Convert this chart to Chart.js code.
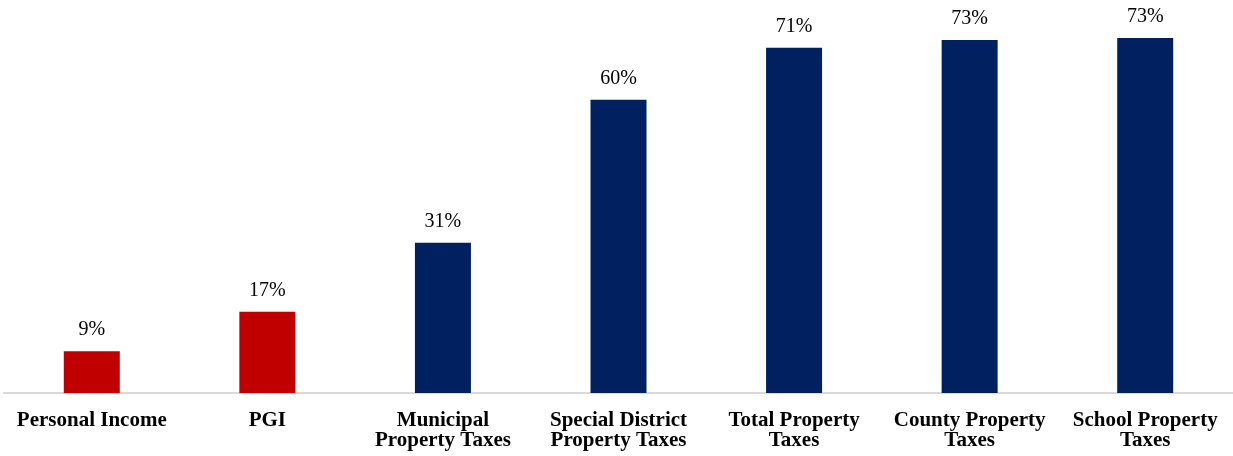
<!DOCTYPE html>
<html>
<head>
<meta charset="utf-8">
<title>Growth by revenue source</title>
<script src="https://cdn.jsdelivr.net/npm/chart.js@4.4.1/dist/chart.umd.min.js"></script>
<style>
  html, body { margin: 0; padding: 0; background: #ffffff; }
  #wrap { width: 1233px; height: 456px; }
</style>
</head>
<body>
<div id="wrap"><canvas id="chart" width="1233" height="456"></canvas></div>
<script>
// Categories shown along the bottom axis (multi-line where wrapped)
const categories = [
  ['Personal Income'],
  ['PGI'],
  ['Municipal', 'Property Taxes'],
  ['Special District', 'Property Taxes'],
  ['Total Property', 'Taxes'],
  ['County Property', 'Taxes'],
  ['School Property', 'Taxes']
];

// Percentage change for each category
const growthPct = [8.6, 16.7, 30.9, 60.3, 71.0, 72.6, 73.0];

// Income measures in red, property tax measures in navy
const barColors = ['#C00000', '#C00000', '#002060', '#002060', '#002060', '#002060', '#002060'];

const SERIF = "'Liberation Serif', 'Times New Roman', Times, serif";

// Value labels above each bar, placed from the bar element itself
const valueLabels = {
  id: 'valueLabels',
  afterDatasetsDraw(chart) {
    const ctx = chart.ctx;
    const meta = chart.getDatasetMeta(0);
    const values = chart.data.datasets[0].data;
    ctx.save();
    ctx.font = '20px ' + SERIF;
    ctx.fillStyle = '#000000';
    ctx.textAlign = 'center';
    ctx.textBaseline = 'alphabetic';
    meta.data.forEach((bar, i) => {
      ctx.fillText(Math.round(values[i]) + '%', bar.x, bar.y - 16);
    });
    ctx.restore();
  }
};

new Chart(document.getElementById('chart'), {
  type: 'bar',
  data: {
    labels: categories,
    datasets: [{
      data: growthPct,
      backgroundColor: barColors,
      borderWidth: 0,
      categoryPercentage: 1.0,
      barPercentage: 0.319
    }]
  },
  options: {
    responsive: false,
    animation: false,
    devicePixelRatio: 1,
    layout: { padding: { top: 4, left: 4, right: 0, bottom: 0 } },
    plugins: {
      legend: { display: false },
      tooltip: { enabled: false },
      title: { display: false }
    },
    scales: {
      x: {
        grid: { display: false, drawTicks: false },
        border: { display: true, color: '#d9d9d9', width: 2 },
        ticks: {
          color: '#000000',
          padding: 18,
          maxRotation: 0,
          autoSkip: false,
          font: { family: SERIF, size: 21, weight: 'bold', lineHeight: 0.95 }
        },
        // fixed band below the bars for the category names; the axis runs edge to edge
        afterFit(scale) {
          scale.height = 63;
          scale.paddingLeft = 0;
          scale.paddingRight = 0;
        }
      },
      y: {
        display: false,
        min: 0,
        max: 80
      }
    }
  },
  plugins: [valueLabels]
});
</script>
</body>
</html>
